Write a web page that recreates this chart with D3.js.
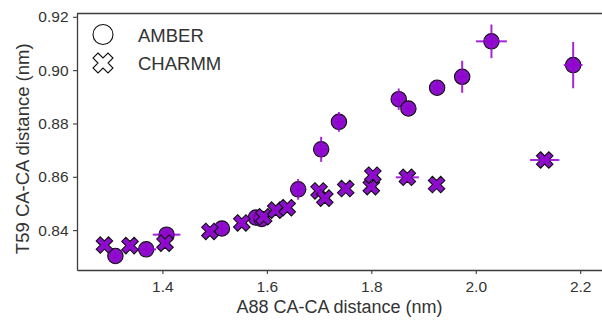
<!DOCTYPE html>
<html>
<head>
<meta charset="utf-8">
<script src="https://cdn.jsdelivr.net/npm/d3@7"></script>
<style>
  body { margin: 0; background: #fff; }
  svg { display: block; font-family: "Liberation Sans", Arial, sans-serif; }
</style>
</head>
<body>
<svg id="chart" width="602" height="320"></svg>
<script>
// AMBER runs: mean CA-CA distances (nm) with standard errors
const amberA88 = [1.310, 1.369, 1.408, 1.514, 1.579, 1.590, 1.660, 1.704, 1.738, 1.8525, 1.871, 1.926, 1.974, 2.030, 2.1865];
const amberT59 = [0.8303, 0.8328, 0.8383, 0.8406, 0.8447, 0.8442, 0.8553, 0.8703, 0.8806, 0.8891, 0.8856, 0.8934, 0.8975, 0.9108, 0.9019];
const amberA88Err = [0.008, 0.019, 0.0265, 0.010, 0.008, 0.010, 0.006, 0.010, 0.008, 0.010, 0.008, 0.008, 0.008, 0.0295, 0.018];
const amberT59Err = [0.0012, 0.0020, 0.0020, 0.0020, 0.0020, 0.0020, 0.0039, 0.0047, 0.0037, 0.0040, 0.0015, 0.0025, 0.0060, 0.0063, 0.0087];

// CHARMM runs
const charmmA88 = [1.289, 1.338, 1.405, 1.491, 1.552, 1.594, 1.617, 1.639, 1.700, 1.711, 1.751, 1.800, 1.803, 1.869, 1.925, 2.132];
const charmmT59 = [0.8344, 0.8342, 0.8351, 0.8395, 0.8427, 0.8450, 0.8475, 0.8484, 0.8547, 0.8520, 0.8556, 0.8563, 0.8606, 0.8598, 0.8571, 0.8663];
const charmmA88Err = [0.006, 0.006, 0.008, 0.006, 0.006, 0.006, 0.006, 0.006, 0.006, 0.006, 0.006, 0.006, 0.006, 0.022, 0.006, 0.028];
const charmmT59Err = [0.0010, 0.0010, 0.0012, 0.0010, 0.0010, 0.0010, 0.0010, 0.0010, 0.0010, 0.0010, 0.0010, 0.0010, 0.0010, 0.0012, 0.0010, 0.0012];

const xTicks = [1.4, 1.6, 1.8, 2.0, 2.2];
const yTicks = [0.84, 0.86, 0.88, 0.90, 0.92];
const seriesNames = ["AMBER", "CHARMM"];

const svg = d3.select("#chart");
const plotLeft = 77, plotRight = 602, plotTop = 13.5, plotBottom = 270;

const x = d3.scaleLinear().domain([1.2365, 2.2417]).range([plotLeft, plotRight]);
const y = d3.scaleLinear().domain([0.82505, 0.92124]).range([plotBottom, plotTop]);

const markColor = "#9400d3";
const fillColor = "#8c10c9";

// axes
const spine = "#3c3c3c";
svg.append("line").attr("x1", plotLeft).attr("x2", plotRight).attr("y1", plotTop).attr("y2", plotTop)
  .attr("stroke", spine).attr("stroke-width", 1.3);

const xAxis = svg.append("g").attr("transform", `translate(0,${plotBottom})`)
  .call(d3.axisBottom(x).tickValues(xTicks).tickFormat(d3.format(".1f")).tickSize(4).tickSizeOuter(0));
const yAxis = svg.append("g").attr("transform", `translate(${plotLeft},0)`)
  .call(d3.axisLeft(y).tickValues(yTicks).tickFormat(d3.format(".2f")).tickSize(4).tickSizeOuter(0));
[xAxis, yAxis].forEach(g => {
  g.select(".domain").attr("stroke", spine).attr("stroke-width", 1.3);
  g.selectAll(".tick line").attr("stroke", spine).attr("stroke-width", 1.1);
  g.selectAll(".tick text").attr("fill", "#333").style("font-size", "15.5px")
    .style("font-family", "'Liberation Sans', Arial, sans-serif");
});
xAxis.selectAll(".tick text").attr("y", 7).attr("dy", "0.95em");
yAxis.selectAll(".tick text").attr("x", -8.5);

svg.append("text").attr("x", (plotLeft + plotRight) / 2).attr("y", 313).attr("text-anchor", "middle")
  .attr("fill", "#333").style("font-size", "18px").text("A88 CA-CA distance (nm)");
svg.append("text").attr("transform", `translate(29,${(plotTop + plotBottom) / 2 + 7}) rotate(-90)`)
  .attr("text-anchor", "middle").attr("fill", "#333").style("font-size", "18.5px")
  .text("T59 CA-CA distance (nm)");

// filled "X" marker: unit outline scaled to overall size s
const xUnit = [[-0.25, -0.5], [0, -0.25], [0.25, -0.5], [0.5, -0.25], [0.25, 0], [0.5, 0.25],
               [0.25, 0.5], [0, 0.25], [-0.25, 0.5], [-0.5, 0.25], [-0.25, 0], [-0.5, -0.25]];
function xMarkerPath(s) {
  return "M" + xUnit.map(([px, py]) => (px * s).toFixed(2) + "," + (py * s).toFixed(2)).join("L") + "Z";
}

const amber = amberA88.map((v, i) => ({ x: v, y: amberT59[i], ex: amberA88Err[i], ey: amberT59Err[i] }));
const charmm = charmmA88.map((v, i) => ({ x: v, y: charmmT59[i], ex: charmmA88Err[i], ey: charmmT59Err[i] }));

const plot = svg.append("g");

function drawErrors(g, data) {
  g.selectAll(null).data(data).join("line")
    .attr("x1", d => x(d.x - d.ex)).attr("x2", d => x(d.x + d.ex))
    .attr("y1", d => y(d.y)).attr("y2", d => y(d.y))
    .attr("stroke", markColor).attr("stroke-opacity", 0.85).attr("stroke-width", 2);
  g.selectAll(null).data(data).join("line")
    .attr("x1", d => x(d.x)).attr("x2", d => x(d.x))
    .attr("y1", d => y(d.y - d.ey)).attr("y2", d => y(d.y + d.ey))
    .attr("stroke", markColor).attr("stroke-opacity", 0.85).attr("stroke-width", 2);
}

const gA = plot.append("g");
gA.selectAll("circle").data(amber).join("circle")
  .attr("cx", d => x(d.x)).attr("cy", d => y(d.y)).attr("r", 7.7)
  .attr("fill", fillColor).attr("stroke", "#111").attr("stroke-width", 1.1);
drawErrors(gA, amber);

const gC = plot.append("g");
gC.selectAll("path").data(charmm).join("path")
  .attr("d", xMarkerPath(16.5))
  .attr("transform", d => `translate(${x(d.x)},${y(d.y)})`)
  .attr("fill", fillColor).attr("stroke", "#111").attr("stroke-width", 1.1);
drawErrors(gC, charmm);

// legend
const legend = svg.append("g");
legend.append("circle").attr("cx", 103).attr("cy", 34.5).attr("r", 10)
  .attr("fill", "#fff").attr("stroke", "#111").attr("stroke-width", 1.1);
legend.append("path").attr("d", xMarkerPath(20)).attr("transform", "translate(103,63)")
  .attr("fill", "#fff").attr("stroke", "#111").attr("stroke-width", 1.1);
legend.selectAll("text").data(seriesNames).join("text")
  .attr("x", 138).attr("y", (d, i) => 41.5 + i * 28.5)
  .attr("fill", "#333").style("font-size", "18.5px").text(d => d);
</script>
</body>
</html>
